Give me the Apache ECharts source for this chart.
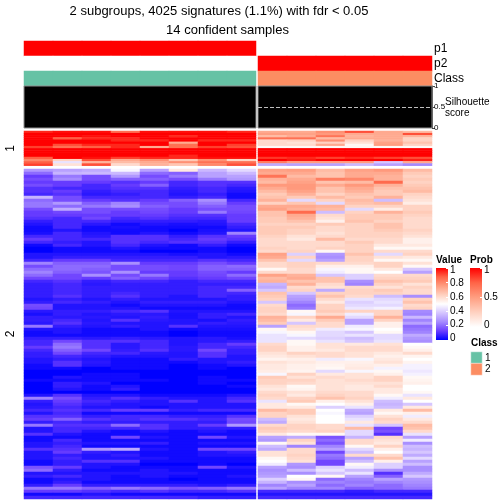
<!DOCTYPE html>
<html><head><meta charset="utf-8">
<style>html,body{margin:0;padding:0;background:#fff}#c{width:504px;height:504px}</style>
<script src="https://cdn.jsdelivr.net/npm/echarts@6/dist/echarts.min.js"></script>
</head><body><div id="c"></div>
<script>
const titleLines = ['2 subgroups, 4025 signatures (1.1%) with fdr < 0.05', '14 confident samples'];
const annotationNames = ['p1', 'p2', 'Class'];
const p1Left = [1,1,1,1,1,1,1,1], p1Right = [0,0,0,0,0,0];
const p2Left = [0,0,0,0,0,0,0,0], p2Right = [1,1,1,1,1,1];
const classLeft = [1,1,1,1,1,1,1,1], classRight = [2,2,2,2,2,2];
const silhouetteLeft = [1,1,1,1,1,1,1,1], silhouetteRight = [1,1,1,1,1,1];
const valueTicks = [0,0.2,0.4,0.6,0.8,1], probTicks = [0,0.5,1], classNames = ['1','2'];
const valueStops = ['#0000ff','#6a3dff','#a58aff','#d4c4ff','#ffffff','#ffd1c0','#ff9e81','#ff6447','#ff0000'];
const probStops = ['#ffffff','#ffd1c0','#ff9e81','#ff6447','#ff0000'];
const classColors = ['#66c2a5','#fc8d62'];

const cluster1Left = [
[95,98,98,85,98,98,98,95],[100,100,100,100,100,100,100,100],[100,100,98,100,100,95,100,100],[100,88,95,95,100,100,100,100],
[100,100,100,95,95,100,95,95],[100,100,100,100,100,72,100,100],[100,90,95,95,100,85,100,92],[92,85,88,95,72,85,92,90],
[100,100,100,100,100,100,100,100],[100,100,100,100,100,100,100,100],[100,100,100,100,100,100,100,100],[100,100,100,100,100,95,100,100],
[88,100,98,92,95,95,98,98],[80,62,90,72,78,65,78,62],[88,44,70,68,72,78,85,85],[92,58,90,60,70,65,80,90]];
const cluster1Right = [
[72,72,78,90,72,68],[75,74,76,72,72,90],[68,72,84,70,72,70],[85,85,68,72,72,62],[60,62,78,62,70,62],[60,58,62,58,74,66],[60,60,72,52,75,62],[52,52,52,52,52,52],
[100,100,100,100,100,100],[100,100,100,100,100,100],[100,100,100,100,100,100],[100,100,100,100,100,100],[93,95,92,95,92,90],[100,97,100,100,100,96],[82,75,75,75,38,72],[32,30,30,35,30,25]];

const cluster2Left = [
[28,30,32,48,30,56,35,42],[20,34,35,35,20,18,30,35],[12,22,15,28,15,22,30,30],[15,25,15,18,18,15,22,28],[12,12,12,10,12,8,10,10],
[15,12,8,12,18,8,10,8],[10,8,8,10,10,6,8,5],[10,12,6,8,8,5,8,4],[8,10,5,6,8,4,6,2],[34,15,8,8,8,6,8,2],
[20,15,12,10,12,18,26,8],[22,28,18,24,15,15,22,12],[22,20,22,26,18,15,18,15],[15,32,15,15,15,12,15,15],[12,14,15,12,14,12,22,14],
[12,12,12,12,12,10,10,12],[10,8,14,8,10,8,8,12],[6,8,8,6,6,6,5,12],[4,8,5,2,4,3,4,8],[2,8,2,3,2,2,2,6],
[2,4,2,2,2,0,3,4],[3,8,4,2,4,2,4,24],[8,8,5,10,10,6,10,12],[12,8,8,10,10,8,12,10],[8,6,4,10,8,10,10,6],
[2,8,4,8,4,2,6,2],[0,2,2,4,2,2,2,0],[0,2,2,2,0,0,2,0],[4,4,4,4,4,3,4,2],[4,6,6,6,6,6,4,5],
[8,12,12,8,8,8,10,8],[24,18,18,26,12,12,15,12],[15,20,20,15,15,14,18,20],[20,20,18,15,15,14,18,18],[24,18,16,26,12,12,15,12],
[20,14,26,15,22,12,14,20],[14,14,12,18,14,10,12,14],[8,10,6,8,8,6,8,8],[6,8,5,6,6,6,6,6],[6,8,6,6,6,6,8,8],
[6,8,6,6,6,6,8,18],[6,8,6,8,6,6,8,8],[6,10,6,10,6,4,8,6],[4,6,4,6,4,4,4,6],[6,8,6,4,6,6,6,4],
[15,4,4,2,4,4,4,2],[14,4,4,4,2,2,2,2],[5,6,6,8,10,4,4,4],[3,6,4,5,5,3,6,8],[6,5,5,4,6,3,6,4],
[6,8,4,10,5,4,3,6],[5,10,5,4,4,4,6,5],[22,6,4,6,4,10,4,4],[4,4,2,2,4,2,3,3],[2,4,2,2,2,0,2,2],
[2,2,2,2,2,0,2,2],[6,6,5,6,5,4,5,3],[8,14,10,10,8,4,5,6],[8,20,10,5,8,4,8,12],[12,22,10,5,8,5,8,8],
[8,18,14,6,10,5,14,6],[6,14,8,8,5,4,10,6],[6,8,6,4,4,4,10,4],[4,6,4,2,2,6,4,4],[4,10,5,2,2,2,4,6],
[2,10,4,2,2,0,2,4],[2,2,0,2,2,0,2,0],[0,0,0,0,0,0,0,0],[0,0,2,2,0,0,0,0],[0,4,2,2,0,0,2,0],
[2,2,2,2,2,0,2,2],[0,6,4,0,0,0,2,0],[0,6,2,4,0,0,0,2],[0,4,2,6,0,0,0,0],[0,0,0,0,0,0,0,0],
[4,10,4,4,2,2,2,4],[24,15,6,10,6,4,4,8],[6,12,8,6,4,10,4,10],[4,10,6,4,4,4,4,4],[5,8,4,4,2,4,4,4],
[8,10,8,12,12,6,8,8],[4,8,2,2,2,2,2,2],[10,10,6,8,8,6,6,10],[12,18,10,8,10,10,8,15],[6,8,6,6,6,6,6,14],
[22,10,10,20,10,6,12,28],[4,8,8,8,10,6,6,6],[4,8,4,2,4,2,4,2],[10,4,2,2,2,2,2,2],[2,2,2,14,4,2,14,4],
[2,8,2,2,2,2,2,2],[4,6,4,4,6,2,4,4],[4,8,2,2,2,2,2,2],[10,10,28,32,4,2,14,14],[4,12,6,4,2,2,4,6],
[4,6,4,6,2,2,4,4],[4,8,4,4,4,2,2,2],[2,6,10,10,2,2,2,2],[2,6,4,4,0,0,2,0],[16,12,4,2,2,2,14,4],
[20,6,2,2,4,2,2,2],[4,4,4,4,4,4,2,2],[6,8,4,2,4,2,2,4],[2,4,4,2,2,0,2,2],[2,6,2,2,2,2,2,2],
[6,12,6,6,6,6,4,6],[22,22,18,22,20,16,18,22],[12,12,10,8,10,8,8,10],[2,2,4,2,2,2,2,2],[8,8,8,8,8,8,6,6]];

const cluster2Right = [
[74,75,68,74,76,68],[72,72,66,72,72,64],[84,68,66,72,70,62],[70,72,82,80,70,64],[68,74,66,68,86,62],
[76,76,72,76,70,64],[72,76,66,72,66,66],[68,74,66,70,64,68],[64,70,62,66,64,62],[66,64,68,64,70,60],
[70,42,62,68,36,58],[62,65,42,66,68,55],[72,72,70,62,62,62],[74,70,68,42,55,62],[66,86,36,62,70,64],
[66,72,60,64,64,62],[64,70,58,64,64,60],[64,66,54,66,62,60],[62,62,64,62,66,60],[64,64,60,62,66,60],
[64,62,60,62,64,62],[64,62,58,62,62,60],[62,58,60,62,62,58],[60,56,68,60,60,54],[60,60,60,64,60,54],
[60,60,60,62,56,56],[62,60,62,62,52,52],[60,62,52,62,60,60],[74,40,28,66,42,62],[72,62,26,62,58,56],
[66,42,30,62,52,52],[60,62,60,60,62,58],[60,62,54,54,62,52],[52,60,48,52,56,38],[60,60,46,52,50,30],
[74,70,38,40,60,60],[68,72,66,40,62,62],[70,66,66,26,66,64],[34,70,60,24,62,58],[32,60,58,60,58,62],
[38,62,32,62,64,60],[66,38,62,62,62,60],[64,30,66,60,36,26],[62,28,60,44,42,62],[38,24,56,40,44,66],
[60,20,62,42,42,60],[62,22,62,45,47,62],[62,52,64,62,62,25],[60,48,60,46,62,24],[70,62,72,42,70,35],
[68,56,64,30,62,24],[64,38,60,30,54,30],[30,60,60,46,54,20],[52,58,46,48,50,22],[48,52,42,38,52,24],
[44,48,42,44,42,32],[44,42,40,36,42,28],[44,52,44,38,44,26],[60,52,58,56,58,50],[62,54,58,60,60,52],
[62,54,56,60,60,54],[58,62,60,58,56,60],[56,58,60,58,54,53],[53,54,46,48,56,50],[58,56,54,54,58,53],
[56,54,53,55,54,47],[56,54,52,56,47,47],[55,53,42,48,52,45],[48,62,56,58,54,47],[64,58,60,58,62,52],
[62,62,58,60,62,53],[62,60,58,58,58,54],[58,52,58,56,60,50],[56,53,58,56,56,50],[60,58,60,60,56,52],
[62,56,62,60,52,44],[60,62,66,62,46,56],[44,64,54,58,36,50],[56,52,50,54,34,38],[56,56,40,44,36,56],
[68,64,50,32,56,68],[62,64,48,30,52,54],[62,58,50,40,58,46],[36,56,50,44,62,56],[32,58,50,56,60,60],
[60,62,60,44,38,68],[64,62,60,68,14,66],[62,60,62,42,16,60],[56,52,52,42,10,44],[30,32,16,34,60,30],
[28,62,20,60,58,46],[52,58,16,60,56,26],[36,24,24,52,62,36],[32,60,30,42,54,34],[58,60,14,36,50,38],
[58,62,22,60,60,32],[52,60,20,30,66,42],[50,58,14,36,54,30],[46,28,14,52,40,36],[30,26,40,46,40,26],
[26,36,44,36,26,26],[28,26,38,44,10,32],[30,50,52,30,18,38],[40,52,20,24,30,28],[34,26,24,22,24,26],
[24,30,20,24,20,24],[30,24,24,18,20,22],[8,8,8,6,8,8],[4,4,4,4,4,4],[8,8,8,8,8,8]];

const font = '"Liberation Sans", Arial, sans-serif';
const textColor = '#000';
const grids = [], xAxes = [], yAxes = [], series = [];
const hiddenPart = {axisLine:{show:false}, axisTick:{show:false}, axisLabel:{show:false}, splitLine:{show:false}};
const cats = n => Array.from({length:n}, (_, i) => String(i));

function addGrid(box, xAxis, yAxis) {
  const i = grids.length;
  grids.push(Object.assign({containLabel:false}, box));
  xAxes.push(Object.assign({gridIndex:i}, hiddenPart, xAxis));
  yAxes.push(Object.assign({gridIndex:i}, hiddenPart, yAxis));
  return i;
}
function heatCells(rows) {
  const out = [];
  rows.forEach((r, y) => r.forEach((v, x) => out.push([x, y, v])));
  return out;
}
function addHeat(box, rows, clusterName) {
  const y = {type:'category', inverse:true, data:cats(rows.length)};
  if (clusterName) Object.assign(y, {name:clusterName, nameLocation:'middle', nameGap:7, nameRotate:90,
    nameTextStyle:{fontFamily:font, fontSize:12, color:textColor}});
  const g = addGrid(box, {type:'category', data:cats(rows[0].length)}, y);
  series.push({type:'heatmap', xAxisIndex:g, yAxisIndex:g, data:heatCells(rows), silent:true, progressive:0});
  return series.length - 1;
}
const valueSeries = [
  addHeat({left:24, top:131, width:232, height:34.7}, cluster1Left, '1'),
  addHeat({left:258, top:131, width:174, height:34.7}, cluster1Right),
  addHeat({left:24, top:169, width:232, height:330}, cluster2Left, '2'),
  addHeat({left:258, top:169, width:174, height:330}, cluster2Right)
];

function addAnnotation(box, p1, p2, cls, showNames) {
  const y = {type:'category', inverse:true, data:annotationNames};
  if (showNames) Object.assign(y, {position:'right', axisLabel:{show:true, interval:0, margin:2, fontFamily:font, fontSize:12, color:textColor}});
  const g = addGrid(box, {type:'category', data:cats(p1.length)}, y);
  series.push({type:'heatmap', xAxisIndex:g, yAxisIndex:g, silent:true, progressive:0,
    data:heatCells([p1, p2])});
  const probIdx = series.length - 1;
  series.push({type:'heatmap', xAxisIndex:g, yAxisIndex:g, silent:true, progressive:0,
    data:cls.map((v, x) => [x, 2, v])});
  return [probIdx, probIdx + 1];
}
const annL = addAnnotation({left:24, top:41, width:232, height:45}, p1Left, p2Left, classLeft, false);
const annR = addAnnotation({left:258, top:41, width:174, height:45}, p1Right, p2Right, classRight, true);

function addSilhouette(box, vals, withAxis) {
  const y = {type:'value', min:0, max:1, interval:0.5};
  if (withAxis) Object.assign(y, {position:'right',
    axisLine:{show:true, lineStyle:{color:'#444', width:1}},
    axisTick:{show:true, length:3, lineStyle:{color:'#444'}},
    axisLabel:{show:true, margin:2, fontFamily:font, fontSize:8, color:textColor,
      showMinLabel:true, showMaxLabel:true, formatter:v => String(v)}});
  const g = addGrid(Object.assign({show:true, borderColor:'#8c8c8c', borderWidth:1, backgroundColor:'transparent', z:5}, box),
    {type:'category', data:cats(vals.length)}, y);
  const s = {type:'bar', xAxisIndex:g, yAxisIndex:g, data:vals, barWidth:'106%', silent:true,
    itemStyle:{color:'#000'}, z:2};
  if (withAxis) s.markLine = {silent:true, symbol:'none', label:{show:false}, animation:false,
    lineStyle:{type:'dashed', color:'#bdbdbd', width:1}, data:[{yAxis:0.5}]};
  series.push(s);
}
addSilhouette({left:24, top:86, width:232, height:42}, silhouetteLeft, false);
addSilhouette({left:258, top:86, width:174, height:42}, silhouetteRight, true);

function addBar(box, labelBox, ticks, stops) {
  const g = addGrid(box, {type:'category', data:['0']}, {
    type:'value', min:0, max:1, position:'right', z:5,
    axisTick:{show:true, inside:true, length:2, lineStyle:{color:'#fff'}, customValues:ticks}
  });
  series.push({type:'bar', xAxisIndex:g, yAxisIndex:g, data:[1], barWidth:'100%', silent:true, itemStyle:{
    color:new echarts.graphic.LinearGradient(0, 1, 0, 0, stops.map((c, i) => ({offset:i / (stops.length - 1), color:c})))}});
  addGrid(labelBox, {type:'category', data:['0']}, {
    type:'value', min:0, max:1, position:'right',
    axisLabel:{show:true, margin:2, fontFamily:font, fontSize:10, color:textColor, customValues:ticks,
      showMinLabel:true, showMaxLabel:true, formatter:v => String(v)}
  });
}
addBar({left:436, top:268, width:12, height:72}, {left:436, top:270, width:12, height:68}, valueTicks, valueStops);
addBar({left:470, top:268, width:12, height:59}, {left:470, top:270, width:12, height:55}, probTicks, probStops);

const gc = addGrid({left:471, top:352, width:11, height:23}, {type:'category', data:['0']},
  {type:'category', inverse:true, data:classNames, position:'right',
   axisLabel:{show:true, interval:0, margin:3, fontFamily:font, fontSize:10, color:textColor}});
series.push({type:'heatmap', xAxisIndex:gc, yAxisIndex:gc, silent:true, progressive:0,
  data:classNames.map((c, i) => [0, i, Number(c)]), itemStyle:{borderColor:'#fff', borderWidth:0.5}});
const classLegendIdx = series.length - 1;

const option = {
  animation:false, backgroundColor:'#fff',
  title:[
    {text:titleLines[0], left:214, top:0, textAlign:'center', textStyle:{fontFamily:font, fontWeight:'normal', fontSize:13, color:textColor}},
    {text:titleLines[1], left:222.5, top:19, textAlign:'center', textStyle:{fontFamily:font, fontWeight:'normal', fontSize:13, color:textColor}}
  ],
  grid:grids, xAxis:xAxes, yAxis:yAxes, series,
  visualMap:[
    {show:false, type:'continuous', min:0, max:100, seriesIndex:valueSeries, inRange:{color:valueStops}},
    {show:false, type:'continuous', min:0, max:1, seriesIndex:[annL[0], annR[0]], inRange:{color:probStops}},
    {show:false, type:'continuous', min:1, max:2, seriesIndex:[annL[1], annR[1], classLegendIdx], inRange:{color:classColors}}
  ],
  graphic:[
    {type:'text', left:445, top:97, style:{text:'Silhouette\nscore', fontFamily:font, fontSize:10, lineHeight:11, fill:textColor}},
    {type:'text', left:436, top:255, style:{text:'Value', fontFamily:font, fontSize:10, fontWeight:'bold', fill:textColor}},
    {type:'text', left:470, top:255, style:{text:'Prob', fontFamily:font, fontSize:10, fontWeight:'bold', fill:textColor}},
    {type:'text', left:471, top:338, style:{text:'Class', fontFamily:font, fontSize:10, fontWeight:'bold', fill:textColor}}
  ]
};
const chart = echarts.init(document.getElementById('c'), null, {renderer:'canvas'});
chart.setOption(option);
</script></body></html>
